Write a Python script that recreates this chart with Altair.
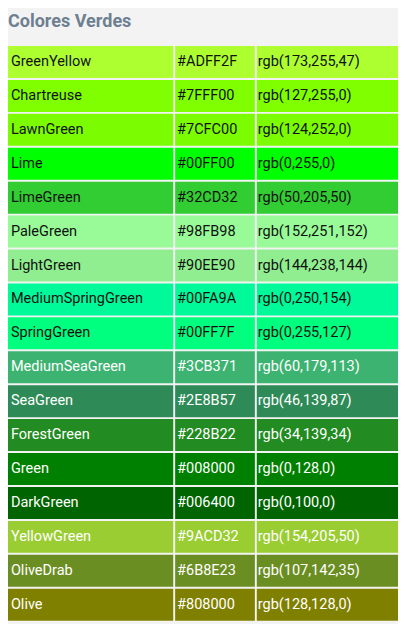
import altair as alt
import pandas as pd

names = ["GreenYellow","Chartreuse","LawnGreen","Lime","LimeGreen","PaleGreen","LightGreen",
         "MediumSpringGreen","SpringGreen","MediumSeaGreen","SeaGreen","ForestGreen","Green",
         "DarkGreen","YellowGreen","OliveDrab","Olive"]
hexes = ["#ADFF2F","#7FFF00","#7CFC00","#00FF00","#32CD32","#98FB98","#90EE90","#00FA9A",
         "#00FF7F","#3CB371","#2E8B57","#228B22","#008000","#006400","#9ACD32","#6B8E23","#808000"]
rgbs = ["rgb(173,255,47)","rgb(127,255,0)","rgb(124,252,0)","rgb(0,255,0)","rgb(50,205,50)",
        "rgb(152,251,152)","rgb(144,238,144)","rgb(0,250,154)","rgb(0,255,127)","rgb(60,179,113)",
        "rgb(46,139,87)","rgb(34,139,34)","rgb(0,128,0)","rgb(0,100,0)","rgb(154,205,50)",
        "rgb(107,142,35)","rgb(128,128,0)"]
white_text = [False]*9 + [True]*8

cols = [(0, 172, 3), (174, 257, 176), (259, 406, 260)]
top, rh = 38, 34.8
rows = []
for i in range(len(names)):
    vals = [names[i], hexes[i], rgbs[i]]
    for c, (x0, x1, tx) in enumerate(cols):
        rows.append(dict(x0=x0, x1=x1, tx=tx, y0=top + i*rh + 1, y1=top + (i+1)*rh - 1,
                         ty=top + (i+0.5)*rh, fill=hexes[i], label=vals[c],
                         tc="#ffffff" if white_text[i] else "#111111"))
df = pd.DataFrame(rows)

xs = alt.Scale(domain=[0, 406], nice=False, zero=False)
ys = alt.Scale(domain=[0, 632], nice=False, zero=False, reverse=True)

cells = alt.Chart(df).mark_rect(clip=False).encode(
    x=alt.X("x0:Q", scale=xs, axis=None), x2="x1:Q",
    y=alt.Y("y0:Q", scale=ys, axis=None), y2="y1:Q",
    fill=alt.Fill("fill:N", scale=None))
texts = alt.Chart(df).mark_text(align="left", baseline="middle", font="Roboto", fontSize=14.5, clip=False).encode(
    x=alt.X("tx:Q", scale=xs, axis=None), y=alt.Y("ty:Q", scale=ys, axis=None),
    text="label:N", color=alt.Color("tc:N", scale=None))
tdf = pd.DataFrame([dict(x=0, y=14, t="Colores Verdes")])
title = alt.Chart(tdf).mark_text(align="left", baseline="middle", font="Roboto", fontSize=18,
                                 fontWeight="bold", color="#6e7f91", clip=False).encode(
    x=alt.X("x:Q", scale=xs, axis=None), y=alt.Y("y:Q", scale=ys, axis=None), text="t:N")

chart = (cells + texts + title).properties(width=390, height=616, padding=0, background="#f3f3f3"
        ).configure_view(stroke=None)
chart.save("out.html", embed_options={"renderer": "svg", "actions": False})
